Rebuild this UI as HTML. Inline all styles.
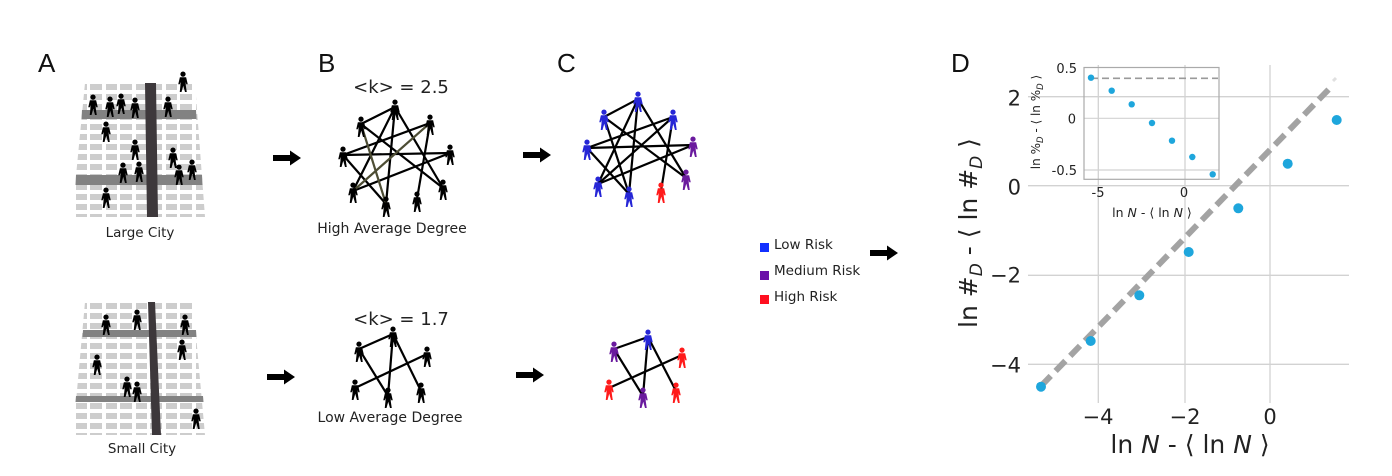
<!DOCTYPE html>
<html><head><meta charset="utf-8"><style>
html,body{margin:0;padding:0;background:#fff;}
svg{display:block;}
.lab{font-family:"Liberation Sans",Arial,sans-serif;font-size:26px;fill:#111;}
.dv{font-family:"DejaVu Sans","Liberation Sans",sans-serif;fill:#222;}
</style></head><body>
<svg width="1392" height="476" viewBox="0 0 1392 476" xmlns="http://www.w3.org/2000/svg">
<defs>
<g id="p" transform="scale(1.25)">
<circle cx="0" cy="-6.3" r="2.1"/>
<path d="M-2.5,-3.8 H2.5 L3.8,1.8 H2.6 L2.2,0 V2.5 L3,8 H1.6 L0.2,3 L-1.2,8 H-2.6 L-2,2.5 V0 L-2.6,1.8 H-3.8 Z"/>
</g>
<path id="ar" d="M0,-3 H17 V-7.5 L28,0 L17,7.5 V3 H0 Z" fill="#000"/>
<pattern id="blk" patternUnits="userSpaceOnUse" width="30" height="10" x="0" y="83">
<rect x="0" y="1" width="12" height="6" fill="#cdcdcd"/>
<rect x="16" y="1" width="11" height="6" fill="#cdcdcd"/>
</pattern>
<pattern id="blk2" patternUnits="userSpaceOnUse" width="30" height="10" x="0" y="302">
<rect x="0" y="1" width="12" height="6" fill="#cdcdcd"/>
<rect x="16" y="1" width="11" height="6" fill="#cdcdcd"/>
</pattern>
</defs>
<rect width="1392" height="476" fill="#fff"/>

<text class="lab" x="38" y="72">A</text>
<text class="lab" x="318" y="72">B</text>
<text class="lab" x="557" y="72">C</text>
<text class="lab" x="951" y="72">D</text>

<!-- Large city -->
<polygon points="85,83 195,83 205,217 72,217" fill="url(#blk)"/>
<polygon points="82,110 196,110 196.5,119 81.5,119" fill="#828282"/>
<polygon points="76,175 202,175 202.5,185 75.5,185" fill="#828282"/>
<polygon points="145,83 156,83 158,217 147,217" fill="#3d383b"/>
<g fill="#000">
<use href="#p" x="93" y="105"/><use href="#p" x="110" y="107"/><use href="#p" x="121" y="104"/>
<use href="#p" x="135" y="108"/><use href="#p" x="168" y="107"/><use href="#p" x="183" y="82"/>
<use href="#p" x="106" y="132"/><use href="#p" x="135" y="150"/><use href="#p" x="173" y="158"/>
<use href="#p" x="192" y="170"/><use href="#p" x="179" y="175"/><use href="#p" x="123" y="173"/>
<use href="#p" x="139" y="172"/><use href="#p" x="106" y="198"/>
</g>
<text class="dv" x="140" y="237" font-size="13.5" text-anchor="middle">Large City</text>

<!-- Small city -->
<polygon points="85,302 193,302 205,435 73,435" fill="url(#blk2)"/>
<polygon points="83,330 196,330 196.5,337 82.5,337" fill="#828282"/>
<polygon points="76,396 203,396 203.5,402 75.5,402" fill="#828282"/>
<polygon points="148,302 155,302 161,435 152,435" fill="#3d383b"/>
<g fill="#000">
<use href="#p" x="106" y="325"/><use href="#p" x="137" y="320"/><use href="#p" x="185" y="325"/>
<use href="#p" x="182" y="350"/><use href="#p" x="97" y="365"/><use href="#p" x="127" y="387"/>
<use href="#p" x="137" y="392"/><use href="#p" x="196" y="419"/>
</g>
<text class="dv" x="142" y="453" font-size="13.5" text-anchor="middle">Small City</text>

<use href="#ar" x="273" y="158"/>
<use href="#ar" x="523" y="155"/>
<use href="#ar" x="267" y="377"/>
<use href="#ar" x="516" y="375"/>
<use href="#ar" x="870" y="253"/>

<!-- B top network -->
<text class="dv" x="401" y="93" font-size="18" text-anchor="middle">&lt;k&gt; = 2.5</text>
<g stroke="#000" stroke-width="2.2" fill="none">
<line x1="395" y1="107" x2="361" y2="124"/>
<line x1="395" y1="107" x2="353" y2="191"/>
<line x1="395" y1="107" x2="386" y2="204"/>
<line x1="395" y1="107" x2="443" y2="188"/>
<line x1="361" y1="124" x2="443" y2="188"/>
<line x1="430" y1="123" x2="343" y2="155"/>
<line x1="430" y1="123" x2="417" y2="199"/>
<line x1="343" y1="155" x2="450" y2="153"/>
<line x1="343" y1="155" x2="386" y2="204"/>
<line x1="450" y1="153" x2="353" y2="191"/>
</g>
<g stroke="#4d4d34" stroke-width="2.2" fill="none">
<line x1="361" y1="124" x2="386" y2="204"/>
<line x1="430" y1="123" x2="353" y2="191"/>
</g>
<g fill="#000">
<use href="#p" x="395" y="110"/><use href="#p" x="361" y="127"/><use href="#p" x="430" y="125"/>
<use href="#p" x="343" y="157"/><use href="#p" x="450" y="155"/><use href="#p" x="353" y="193"/>
<use href="#p" x="386" y="207"/><use href="#p" x="417" y="202"/><use href="#p" x="443" y="190"/>
</g>
<text class="dv" x="392" y="233" font-size="14" text-anchor="middle">High Average Degree</text>

<!-- B bottom network -->
<text class="dv" x="401" y="325" font-size="18" text-anchor="middle">&lt;k&gt; = 1.7</text>
<g stroke="#000" stroke-width="2.2" fill="none">
<line x1="359" y1="349" x2="393" y2="334"/>
<line x1="393" y1="334" x2="388" y2="396"/>
<line x1="393" y1="334" x2="421" y2="391"/>
<line x1="359" y1="349" x2="388" y2="396"/>
<line x1="355" y1="388" x2="427" y2="354"/>
</g>
<g fill="#000">
<use href="#p" x="393" y="337"/><use href="#p" x="359" y="352"/><use href="#p" x="427" y="357"/>
<use href="#p" x="355" y="390"/><use href="#p" x="388" y="398"/><use href="#p" x="421" y="393"/>
</g>
<text class="dv" x="390" y="422" font-size="14" text-anchor="middle">Low Average Degree</text>

<!-- C top network -->
<g stroke="#000" stroke-width="2.2" fill="none">
<line x1="638" y1="99" x2="604" y2="117"/>
<line x1="638" y1="99" x2="598" y2="184"/>
<line x1="638" y1="99" x2="629" y2="194"/>
<line x1="638" y1="99" x2="686" y2="178"/>
<line x1="604" y1="117" x2="686" y2="178"/>
<line x1="604" y1="117" x2="629" y2="194"/>
<line x1="673" y1="117" x2="587" y2="148"/>
<line x1="673" y1="117" x2="598" y2="184"/>
<line x1="673" y1="117" x2="661" y2="191"/>
<line x1="587" y1="148" x2="693" y2="145"/>
<line x1="587" y1="148" x2="629" y2="194"/>
<line x1="693" y1="145" x2="598" y2="184"/>
</g>
<g fill="#2626d6">
<use href="#p" x="638" y="102"/><use href="#p" x="604" y="120"/><use href="#p" x="673" y="120"/>
<use href="#p" x="587" y="150"/><use href="#p" x="598" y="187"/><use href="#p" x="629" y="197"/>
</g>
<g fill="#6a1a9e"><use href="#p" x="693" y="147"/><use href="#p" x="686" y="180"/></g>
<g fill="#ff1a1a"><use href="#p" x="661" y="193"/></g>

<!-- C bottom network -->
<g stroke="#000" stroke-width="2.2" fill="none">
<line x1="614" y1="349" x2="648" y2="337"/>
<line x1="648" y1="337" x2="643" y2="396"/>
<line x1="648" y1="337" x2="676" y2="391"/>
<line x1="614" y1="349" x2="643" y2="396"/>
<line x1="609" y1="388" x2="682" y2="355"/>
</g>
<g fill="#2626d6"><use href="#p" x="648" y="340"/></g>
<g fill="#6a1a9e"><use href="#p" x="614" y="352"/><use href="#p" x="643" y="398"/></g>
<g fill="#ff1a1a"><use href="#p" x="682" y="358"/><use href="#p" x="609" y="390"/><use href="#p" x="676" y="393"/></g>

<!-- Legend -->
<rect x="760" y="243" width="9" height="9" fill="#1230ff"/>
<rect x="760" y="271" width="9" height="9" fill="#6a0fa8"/>
<rect x="760" y="295" width="9" height="9" fill="#ff1020"/>
<text class="dv" x="774" y="249" font-size="13.5">Low Risk</text>
<text class="dv" x="774" y="275" font-size="13.5">Medium Risk</text>
<text class="dv" x="774" y="301" font-size="13.5">High Risk</text>

<!-- Panel D main grid -->
<g stroke="#d2d2d2" stroke-width="1.3">
<line x1="1028" y1="96.7" x2="1349" y2="96.7"/>
<line x1="1028" y1="185.7" x2="1349" y2="185.7"/>
<line x1="1028" y1="275.3" x2="1349" y2="275.3"/>
<line x1="1028" y1="364.3" x2="1349" y2="364.3"/>
<line x1="1098.3" y1="65" x2="1098.3" y2="403"/>
<line x1="1185" y1="65" x2="1185" y2="403"/>
<line x1="1270" y1="65" x2="1270" y2="403"/>
</g>
<g stroke="#d2d2d2" stroke-width="1.2">
<line x1="1084" y1="118.3" x2="1219" y2="118.3"/>
<line x1="1084" y1="170" x2="1219" y2="170"/>
</g>
<rect x="1084" y="67.5" width="135" height="111.8" fill="none" stroke="#aaa" stroke-width="1.2"/>
<line x1="1091" y1="78.3" x2="1218" y2="78.3" stroke="#9a9a9a" stroke-width="1.6" stroke-dasharray="7 4"/>
<g fill="#1ea6dc">
<circle cx="1091" cy="77.7" r="3.2"/><circle cx="1111.7" cy="90.7" r="3.2"/><circle cx="1131.7" cy="104.3" r="3.2"/>
<circle cx="1152" cy="123" r="3.2"/><circle cx="1172" cy="140.7" r="3.2"/><circle cx="1192.3" cy="157" r="3.2"/>
<circle cx="1212.7" cy="174.3" r="3.2"/>
</g>
<g class="dv" font-size="13" text-anchor="end">
<text x="1077" y="73">0.5</text>
<text x="1076" y="123.5">0</text>
<text x="1077" y="175">-0.5</text>
</g>
<g class="dv" font-size="13" text-anchor="middle">
<text x="1098" y="197">-5</text>
<text x="1184" y="197">0</text>
<text x="1152" y="217" font-size="12.5">ln <tspan font-style="italic">N</tspan> - ⟨ ln <tspan font-style="italic">N</tspan> ⟩</text>
</g>
<text class="dv" font-size="12" text-anchor="middle" transform="translate(1040,122) rotate(-90)">ln %<tspan font-size="8.5" dy="3" font-style="italic">D</tspan><tspan dy="-3"> - ⟨ ln %</tspan><tspan font-size="8.5" dy="3" font-style="italic">D</tspan><tspan dy="-3"> ⟩</tspan></text>

<line x1="1041" y1="386" x2="1331" y2="87" stroke="#a3a3a3" stroke-width="6" stroke-dasharray="14 7"/>
<line x1="1333" y1="81" x2="1336" y2="78" stroke="#e0e0e0" stroke-width="3"/>
<g fill="#1ea6dc">
<circle cx="1041" cy="386.7" r="5"/><circle cx="1090.7" cy="341" r="5"/><circle cx="1139.3" cy="295.3" r="5"/>
<circle cx="1188.7" cy="252" r="5"/><circle cx="1238.3" cy="208.3" r="5"/><circle cx="1287.7" cy="163.7" r="5"/>
<circle cx="1336.7" cy="120" r="5"/>
</g>
<g class="dv" font-size="21" text-anchor="middle">
<text x="1098" y="424">−4</text>
<text x="1185" y="424">−2</text>
<text x="1270" y="424">0</text>
</g>
<g class="dv" font-size="21" text-anchor="end">
<text x="1021" y="105.5">2</text>
<text x="1021" y="194.5">0</text>
<text x="1021" y="282.5">−2</text>
<text x="1021" y="372.5">−4</text>
</g>
<text class="dv" x="1190" y="453" font-size="25" text-anchor="middle">ln <tspan font-style="italic">N</tspan> - ⟨ ln <tspan font-style="italic">N</tspan> ⟩</text>
<text class="dv" font-size="25" text-anchor="middle" transform="translate(977,233) rotate(-90)">ln #<tspan font-size="17" dy="5" font-style="italic">D</tspan><tspan dy="-5"> - ⟨ ln #</tspan><tspan font-size="17" dy="5" font-style="italic">D</tspan><tspan dy="-5"> ⟩</tspan></text>
</svg>
</body></html>
